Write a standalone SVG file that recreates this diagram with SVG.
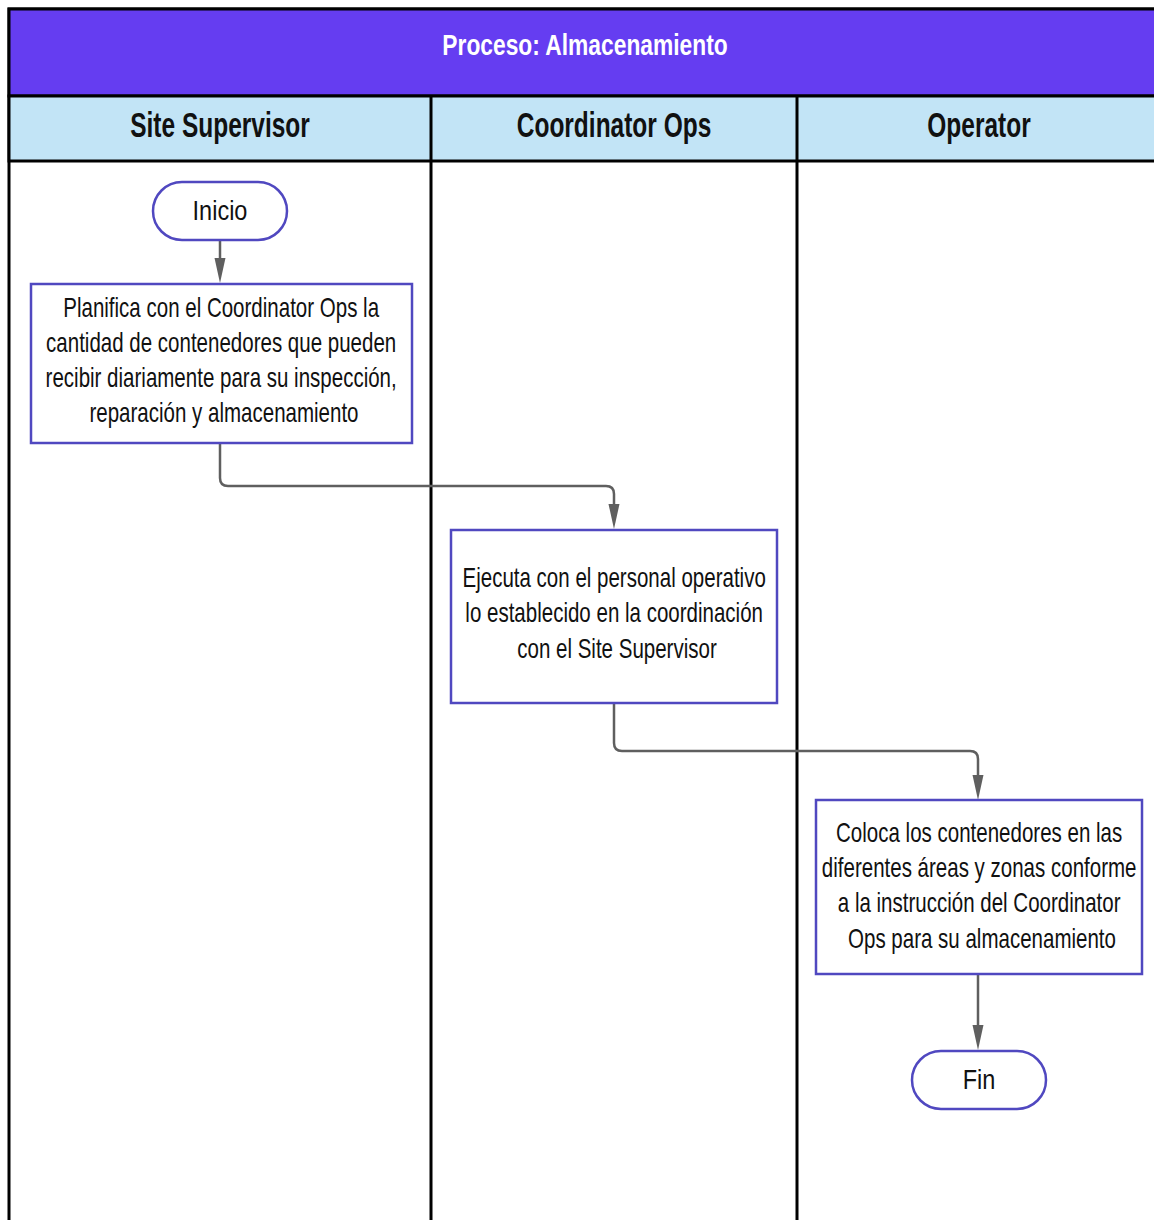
<svg xmlns="http://www.w3.org/2000/svg" width="1154" height="1220" viewBox="0 0 1154 1220">
<defs>
<style>
.t{font-family:"Liberation Sans",Arial,sans-serif;fill:#111;text-anchor:middle}
.body{font-size:27px}
.term{font-size:28px}
.hdr{font-weight:bold;font-size:35px}
.box{fill:#fff;stroke:#5048C0;stroke-width:2.5}
.con{fill:none;stroke:#5f5f5f;stroke-width:2.5}
.head{fill:#5f5f5f}
.lane{stroke:#000;stroke-width:3;fill:none}
</style>
</defs>
<rect width="1154" height="1220" fill="#fff"/>
<g id="pool">
<rect x="9" y="9" width="1152" height="1230" fill="#fff" stroke="#000" stroke-width="3"/>
<rect x="9" y="9" width="1152" height="87" fill="#653DF1" stroke="#000" stroke-width="3"/>
<rect x="9" y="96" width="1152" height="65" fill="#C2E4F6" stroke="#000" stroke-width="3"/>
<line class="lane" x1="431" y1="96" x2="431" y2="1225"/>
<line class="lane" x1="797" y1="96" x2="797" y2="1225"/>
<text transform="translate(585 55) scale(0.76 1)" x="0" y="0" class="t" style="fill:#fff;font-weight:bold;font-size:30px">Proceso: Almacenamiento</text>
<text transform="translate(220 137) scale(0.70 1)" x="0" y="0" class="t hdr">Site Supervisor</text>
<text transform="translate(614 137) scale(0.70 1)" x="0" y="0" class="t hdr">Coordinator Ops</text>
<text transform="translate(979 137) scale(0.70 1)" x="0" y="0" class="t hdr">Operator</text>
</g>
<g id="connectors">
<path class="con" d="M220,241 V258"/>
<path class="head" d="M214.5,258 L225.5,258 L220,283 Z"/>
<path class="con" d="M220,444 V478 Q220,486 228,486 H606 Q614,486 614,494 V504"/>
<path class="head" d="M608.5,504 L619.5,504 L614,529 Z"/>
<path class="con" d="M614,704 V743 Q614,751 622,751 H970 Q978,751 978,759 V775"/>
<path class="head" d="M972.5,775 L983.5,775 L978,800 Z"/>
<path class="con" d="M978,975 V1025"/>
<path class="head" d="M972.5,1025 L983.5,1025 L978,1050 Z"/>
</g>
<g id="inicio">
<rect x="153" y="182" width="134" height="58" rx="29" class="box"/>
<text transform="translate(220 220) scale(0.84 1)" x="0" y="0" class="t term">Inicio</text>
</g>
<g id="planifica">
<rect x="31" y="284" width="381" height="159" class="box"/>
<text transform="translate(224 0) scale(0.76 1)" class="t body">
<tspan x="0" y="317">Planifica con el Coordinator Ops la</tspan>
<tspan x="0" y="352">cantidad de contenedores que pueden</tspan>
<tspan x="0" y="387">recibir diariamente para su inspección,</tspan>
<tspan x="0" y="422">reparación y almacenamiento</tspan>
</text>
</g>
<g id="ejecuta">
<rect x="451" y="530" width="326" height="173" class="box"/>
<text transform="translate(617 0) scale(0.76 1)" class="t body">
<tspan x="0" y="587">Ejecuta con el personal operativo</tspan>
<tspan x="0" y="622">lo establecido en la coordinación</tspan>
<tspan x="0" y="658">con el Site Supervisor</tspan>
</text>
</g>
<g id="coloca">
<rect x="816" y="800" width="326" height="174" class="box"/>
<text transform="translate(982 0) scale(0.76 1)" class="t body">
<tspan x="0" y="842">Coloca los contenedores en las</tspan>
<tspan x="0" y="877">diferentes áreas y zonas conforme</tspan>
<tspan x="0" y="912">a la instrucción del Coordinator</tspan>
<tspan x="0" y="948">Ops para su almacenamiento</tspan>
</text>
</g>
<g id="fin">
<rect x="912" y="1051" width="134" height="58" rx="29" class="box"/>
<text transform="translate(979 1089) scale(0.84 1)" x="0" y="0" class="t term">Fin</text>
</g>
</svg>
